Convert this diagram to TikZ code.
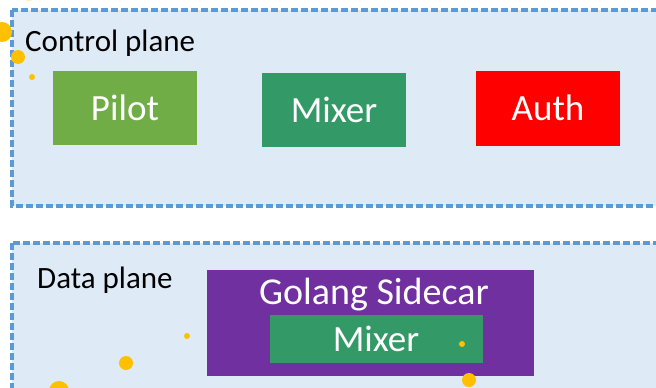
\documentclass[tikz,border=0pt]{standalone}
\usepackage{fontspec}
\setmainfont{Carlito}
\definecolor{planefill}{HTML}{DEEBF7}
\definecolor{planeline}{HTML}{5B9BD5}
\definecolor{pilotgreen}{HTML}{70AD47}
\definecolor{mixergreen}{HTML}{339966}
\definecolor{authred}{HTML}{FF0000}
\definecolor{sidecarpurple}{HTML}{7030A0}
\definecolor{dotyellow}{HTML}{FFC000}
\tikzset{
  plane/.style={draw=planeline,line width=3.2pt,dash pattern=on 7pt off 3pt},
  comp/.style={inner sep=0pt,text=white,font=\fontsize{37}{40}\selectfont},
  planelabel/.style={anchor=base west,inner sep=0pt,font=\fontsize{31}{34}\selectfont},
  dot/.style={fill=dotyellow,draw=none}
}
\begin{document}
\begin{tikzpicture}[x=1pt,y=-1pt]
\useasboundingbox (0,0) rectangle (656,388);
\fill[white] (0,0) rectangle (656,388);
% planes
\fill[planefill] (12,10) rectangle (664,206);
\draw[plane] (12,10) rectangle (664,206);
\fill[planefill] (12,243) rectangle (664,400);
\draw[plane] (12,243) rectangle (664,400);
\node[planelabel] (cpl) at (25,51) {Control plane};
\node[planelabel] (dpl) at (37,288) {Data plane};
% control components
\fill[pilotgreen] (53,71) rectangle (197,145);
\node[comp] (pilot) at (125,108) {Pilot};
\fill[mixergreen] (262,73) rectangle (406,147);
\node[comp] (mixer) at (334,110) {Mixer};
\fill[authred] (476,71) rectangle (620,146);
\node[comp] (auth) at (548,108) {Auth};
% sidecar
\fill[sidecarpurple] (207,270) rectangle (534,376);
\node[comp,anchor=base,font=\fontsize{38}{40}\selectfont] (sidecar) at (374,304) {Golang Sidecar};
\fill[mixergreen] (270,315) rectangle (483,363);
\node[comp] (imixer) at (376,339) {Mixer};
% dots
\fill[dotyellow!30] (29,-6) circle (7);
\fill[dot] (2,32) circle (10);
\fill[dot] (18,57) circle (7);
\fill[dot] (32,77) circle (3);
\fill[dot] (187,336) circle (3);
\fill[dot] (126,363) circle (7);
\fill[dot] (59,391) circle (10);
\fill[dot] (462,344) circle (3);
\fill[dot] (469,380) circle (7);
\end{tikzpicture}
\end{document}
